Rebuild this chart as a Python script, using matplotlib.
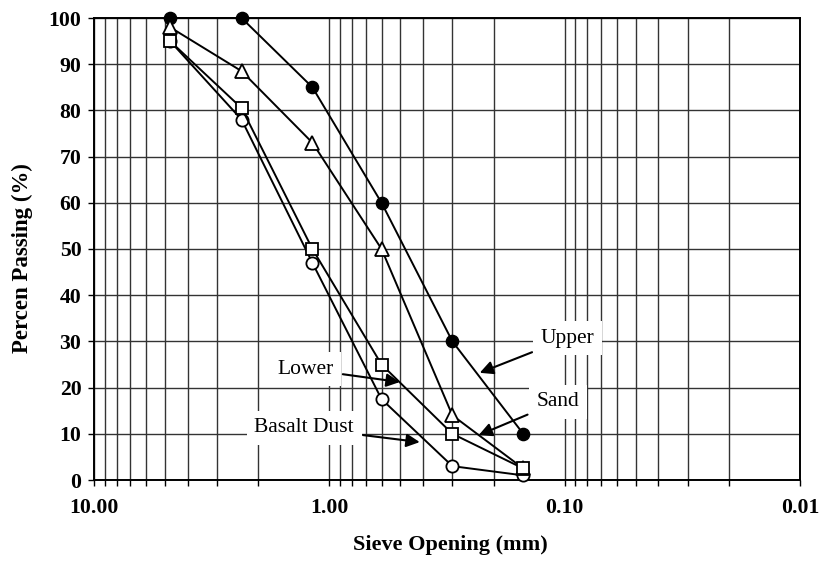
import matplotlib
matplotlib.use("Agg")
import matplotlib.pyplot as plt
from matplotlib.ticker import LogLocator, FixedLocator, NullFormatter

sieve_mm = [4.75, 2.36, 1.18, 0.6, 0.3, 0.15]
upper = [100, 100, 85, 60, 30, 10]
sand = [98, 88.5, 73, 50, 14, 2.5]
lower = [95, 80.5, 50, 25, 10, 2.5]
basalt = [95, 78, 47, 17.5, 3, 1]

x_ticks = [10, 1, 0.1, 0.01]
x_tick_labels = ["10.00", "1.00", "0.10", "0.01"]
y_ticks = list(range(0, 101, 10))

plt.rcParams['font.family'] = ['Liberation Serif', 'DejaVu Serif']

fig = plt.figure(figsize=(8.28, 5.62), dpi=100)
ax = fig.add_axes([94/828, 1 - 480/562, (800-94)/828, (480-18)/562])

ax.set_xscale('log')
ax.set_xlim(10, 0.01)
ax.set_ylim(0, 100)

ax.xaxis.set_major_locator(FixedLocator(x_ticks))
ax.xaxis.set_minor_locator(LogLocator(base=10, subs=range(2, 10)))
ax.xaxis.set_minor_formatter(NullFormatter())
ax.set_xticklabels(x_tick_labels)
ax.set_yticks(y_ticks)

gc = '#333333'
ax.grid(True, which='major', axis='both', color=gc, lw=1.0)
ax.grid(True, which='minor', axis='x', color=gc, lw=1.0)
ax.set_axisbelow(True)

for s in ax.spines.values():
    s.set_color('black')
    s.set_linewidth(1.4)

ax.tick_params(axis='both', which='both', direction='out', length=4, width=1, color='black')
ax.tick_params(axis='x', which='major', pad=9, labelsize=15.7)
ax.tick_params(axis='y', which='major', pad=5, labelsize=15.7)
for lab in ax.get_xticklabels() + ax.get_yticklabels():
    lab.set_fontweight('bold')

lw = 1.4
ms = 8.8
ax.plot(sieve_mm, upper, '-o', color='black', lw=lw, ms=ms, mfc='black', mec='black', clip_on=False, zorder=3)
ax.plot(sieve_mm, basalt, '-o', color='black', lw=lw, ms=ms, mfc='white', mec='black', mew=1.3, clip_on=False, zorder=4)
ax.plot(sieve_mm, sand, '-^', color='black', lw=lw, ms=ms + 0.7, mfc='white', mec='black', mew=1.3, clip_on=False, zorder=5)
ax.plot(sieve_mm, lower, '-s', color='black', lw=lw, ms=ms, mfc='white', mec='black', mew=1.3, clip_on=False, zorder=6)

ap = dict(arrowstyle='-|>', color='black', lw=1.5, mutation_scale=20, shrinkA=1, shrinkB=0)
bb = dict(boxstyle='square,pad=0.35', fc='white', ec='none')
ax.annotate('Upper', xy=(0.2296, 23.2), xytext=(0.097, 30.7), fontsize=15.5,
            ha='center', va='center', bbox=bb, arrowprops=ap, zorder=7)
ax.annotate('Sand', xy=(0.232, 9.7), xytext=(0.107, 16.9), fontsize=15.5,
            ha='center', va='center', bbox=bb, arrowprops=ap, zorder=7)
ax.annotate('Lower', xy=(0.502, 21.2), xytext=(1.259, 24.0), fontsize=15.5,
            ha='center', va='center', bbox=bb, arrowprops=ap, zorder=7)
ax.annotate('Basalt Dust', xy=(0.413, 8.2), xytext=(1.278, 11.3), fontsize=15.5,
            ha='center', va='center', bbox=bb, arrowprops=ap, zorder=7)

fig.text(450/828, 1 - 545/562, 'Sieve Opening (mm)', ha='center', va='center',
         fontsize=16, fontweight='bold')
fig.text(22/828, 1 - 258/562, 'Percen Passing (%)', ha='center', va='center',
         rotation=90, fontsize=16.5, fontweight='bold')

fig.savefig('out.png', dpi=100)
